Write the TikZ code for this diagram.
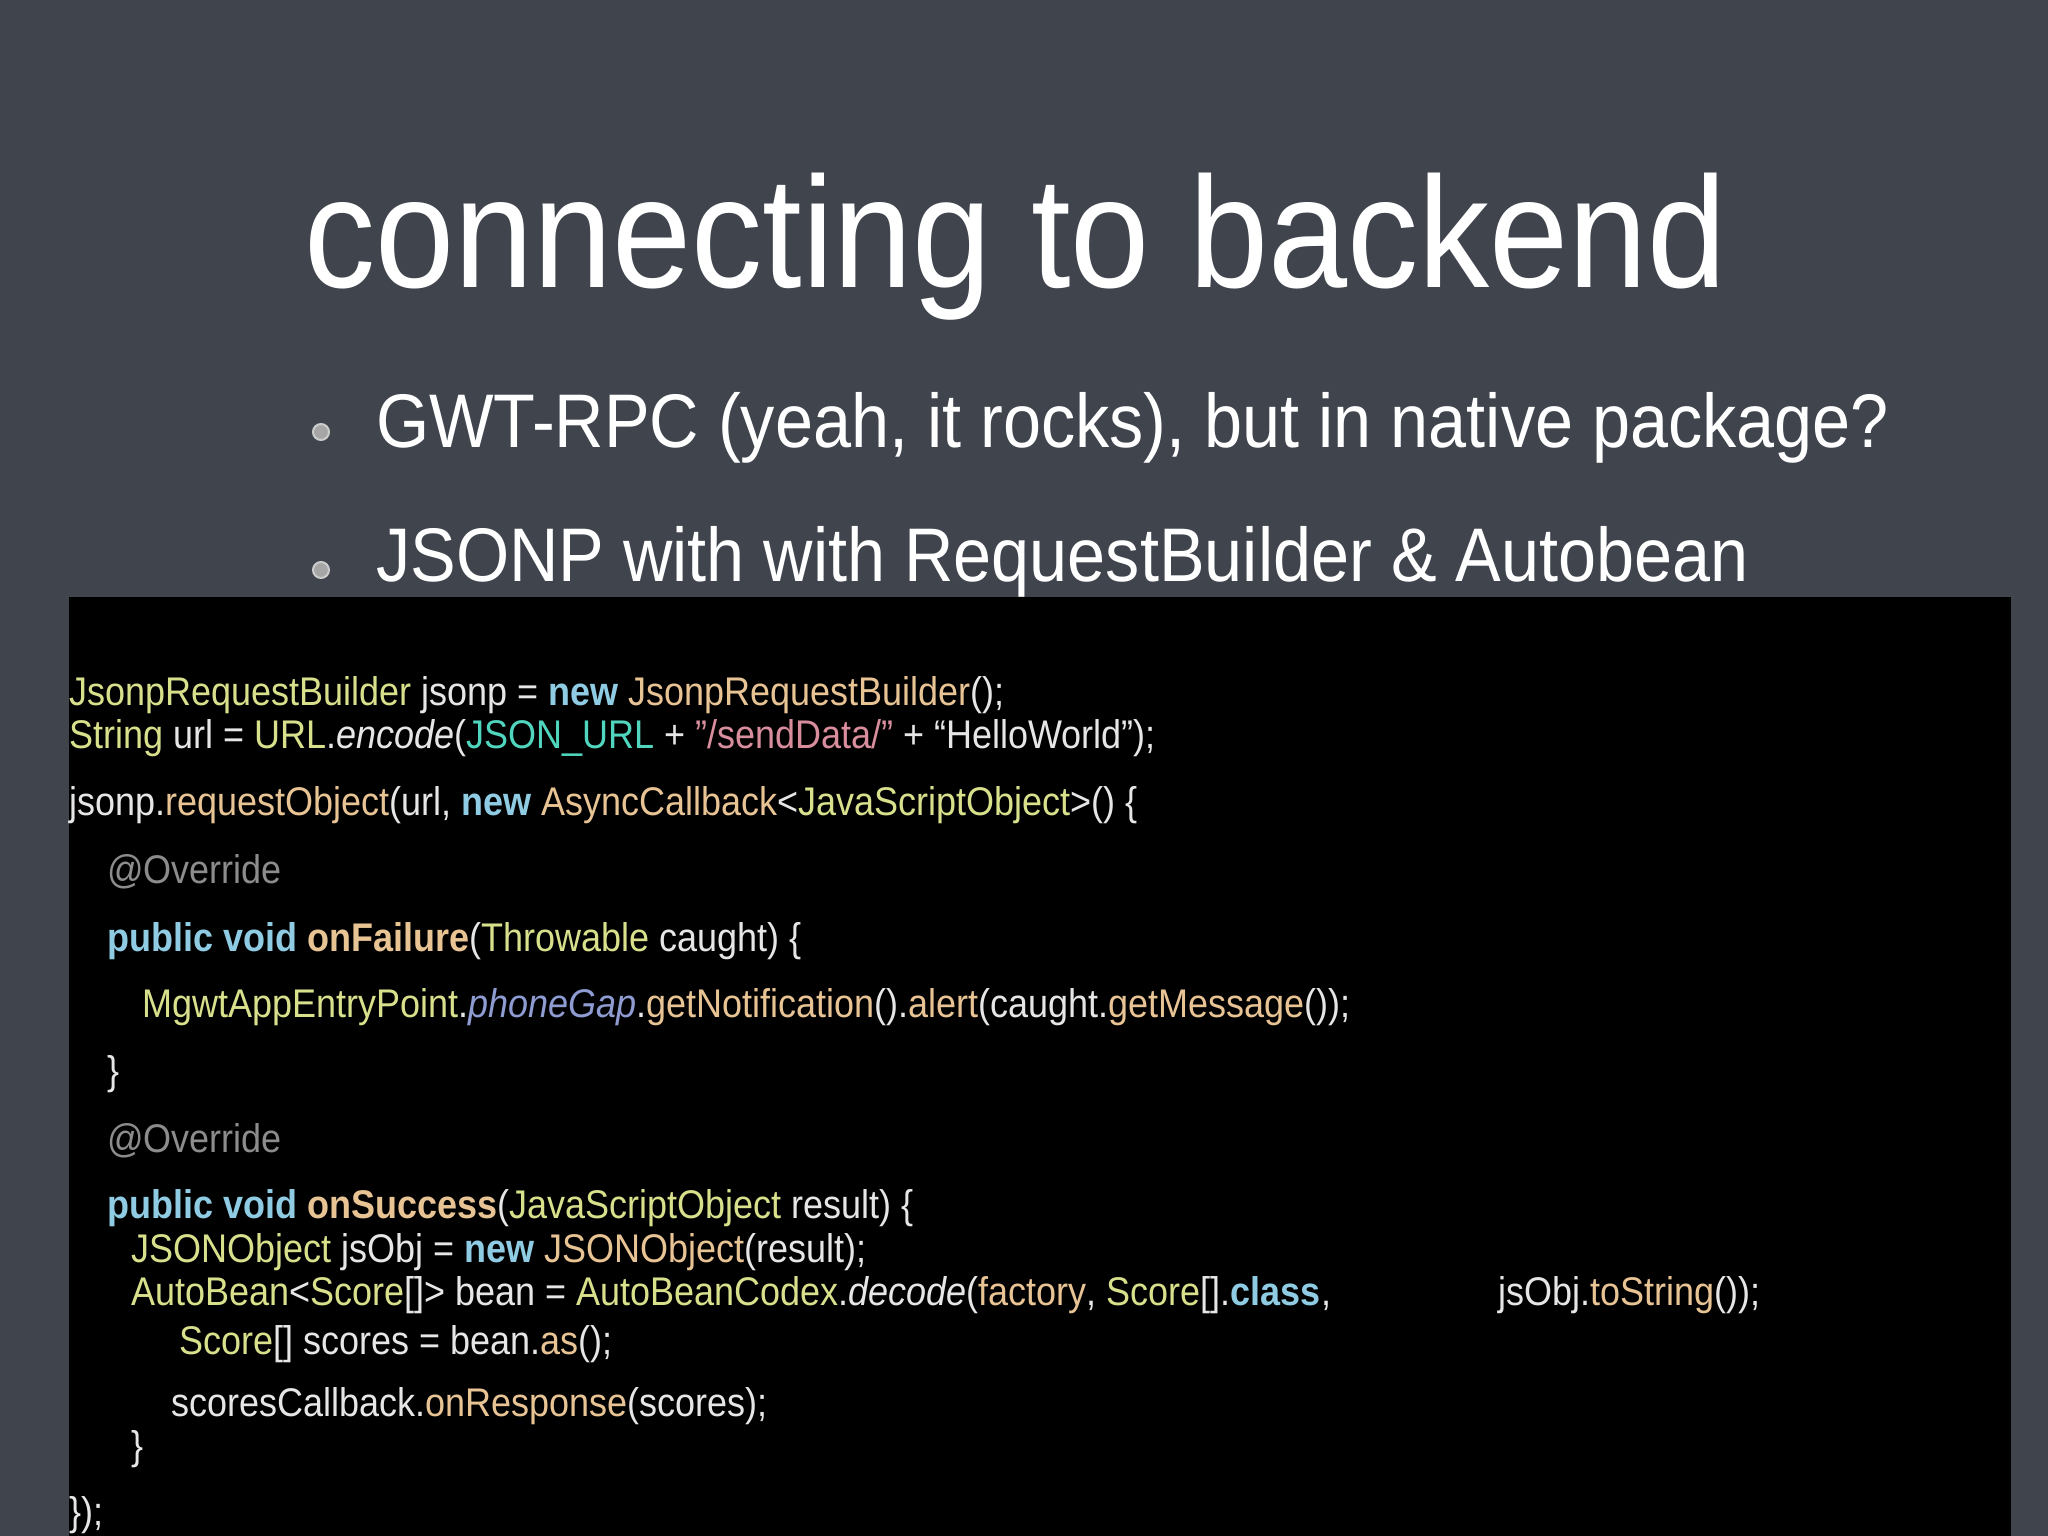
\documentclass[tikz,border=0pt]{standalone}
\usepackage{fontspec}
\setmainfont[FakeStretch=0.9]{Liberation Sans}
\definecolor{bg}{HTML}{3F444D}
\definecolor{cls}{HTML}{D9E08C}
\definecolor{tan}{HTML}{E8C394}
\definecolor{kw}{HTML}{8FCBE3}
\definecolor{teal}{HTML}{50D6BE}
\definecolor{str}{HTML}{D88E9C}
\definecolor{gr}{HTML}{8C8C8C}
\definecolor{pur}{HTML}{8E9CD2}
\definecolor{pl}{HTML}{E6E6E6}
\newcommand{\C}[1]{\textcolor{cls}{#1}}
\newcommand{\T}[1]{\textcolor{tan}{#1}}
\newcommand{\K}[1]{\textcolor{kw}{\bfseries #1}}
\begin{document}
\begin{tikzpicture}[x=1pt,y=-1pt,
  code/.style={anchor=base west,inner sep=0pt,font=\fontsize{40}{48}\selectfont,text=pl},
  bul/.style={anchor=base west,inner sep=0pt,font=\fontsize{76}{90}\selectfont,text=white},
  dot/.style={circle,fill=gray!70,draw=gray!40,line width=2pt,minimum size=16pt,inner sep=0pt}]
\fill[bg] (0,0) rectangle (2048,1536);
\useasboundingbox (0,0) rectangle (2048,1536);
\node[anchor=base west,inner sep=0pt,font=\fontsize{158}{170}\selectfont,text=white] (title) at (304,287) {connecting to backend};
\node[dot] (d1) at (321,432) {};
\node[bul] (b1) at (376,447) {GWT-RPC (yeah, it rocks), but in native package?};
\node[dot] (d2) at (321,570) {};
\node[bul] (b2) at (376,581) {JSONP with with RequestBuilder \& Autobean};
\fill[black] (69,597) rectangle (2011,1536);
\node[code] (l1) at (69,705) {\C{JsonpRequestBuilder} jsonp = \K{new} \T{JsonpRequestBuilder}();};
\node[code] (l2) at (69,748) {\C{String} url = \C{URL}.\textit{encode}(\textcolor{teal}{JSON\_URL} + \textcolor{str}{\symbol{34}/sendData/\symbol{34}} + “HelloWorld”);};
\node[code] (l3) at (69,815) {jsonp.\T{requestObject}(url, \K{new} \T{AsyncCallback}<\C{JavaScriptObject}>() \{};
\node[code,text=gr] (l4) at (107,883) {@Override};
\node[code] (l5) at (107,951) {\K{public void} \textcolor{tan}{\bfseries onFailure}(\C{Throwable} caught) \{};
\node[code] (l6) at (142,1017) {\C{MgwtAppEntryPoint}.\textcolor{pur}{\itshape phoneGap}.\T{getNotification}().\T{alert}(caught.\T{getMessage}());};
\node[code] (l7) at (107,1084) {\}};
\node[code,text=gr] (l8) at (107,1152) {@Override};
\node[code] (l9) at (107,1218) {\K{public void} \textcolor{tan}{\bfseries onSuccess}(\C{JavaScriptObject} result) \{};
\node[code] (l10) at (131,1262) {\C{JSONObject} jsObj = \K{new} \T{JSONObject}(result);};
\node[code] (l11) at (131,1305) {\C{AutoBean}<\C{Score}[]> bean = \C{AutoBeanCodex}.\textit{decode}(\T{factory}, \C{Score}[].\K{class},};
\node[code] (l11b) at (1498,1305) {jsObj.\T{toString}());};
\node[code] (l12) at (179,1354) {\C{Score}[] scores = bean.\T{as}();};
\node[code] (l13) at (171,1416) {scoresCallback.\T{onResponse}(scores);};
\node[code] (l14) at (131,1459) {\}};
\node[code] (l15) at (69,1525) {\});};
\end{tikzpicture}
\end{document}
